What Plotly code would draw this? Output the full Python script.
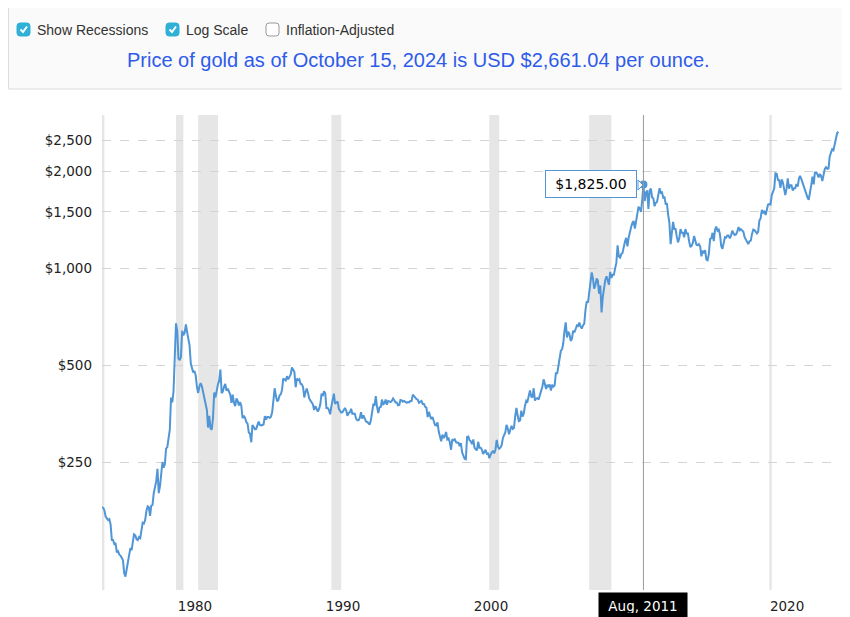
import pandas as pd
import plotly.graph_objects as go

# Buwanang presyo ng ginto (USD kada onsa), Ene 1975 - Okt 2024
gold_1975_1979 = [
    181, 180, 177, 169, 167, 165, 166, 160, 143, 143, 139, 140,
    131, 132, 129, 128, 126, 124, 113, 110, 116, 123, 130, 135,
    133, 142, 149, 148, 144, 143, 146, 145, 154, 162, 161, 165,
    176, 182, 181, 170, 183, 184, 200, 208, 218, 238, 200, 210,
    233, 250, 240, 246, 275, 278, 296, 315, 397, 383, 415, 512,
]
gold_1980s = [
    675, 640, 525, 518, 530, 640, 620, 630, 670, 635, 610, 575,
    505, 490, 475, 480, 465, 428, 410, 430, 440, 430, 410, 400,
    384, 363, 320, 348, 318, 315, 342, 411, 397, 423, 436, 448,
    485, 409, 414, 429, 437, 416, 423, 414, 405, 382, 405, 382,
    373, 394, 388, 375, 384, 373, 342, 348, 343, 333, 329, 309,
    306, 288, 326, 321, 316, 317, 327, 334, 326, 325, 326, 327,
    347, 339, 345, 345, 343, 346, 357, 385, 424, 401, 386, 390,
    403, 406, 419, 455, 452, 448, 462, 452, 460, 468, 492, 486,
    476, 427, 454, 450, 452, 438, 436, 428, 397, 413, 423, 410,
    394, 388, 383, 378, 363, 373, 366, 359, 366, 378, 408, 401,
]
gold_1990s = [
    415, 408, 368, 368, 363, 352, 372, 388, 408, 379, 384, 386,
    366, 362, 356, 357, 361, 368, 362, 348, 355, 357, 366, 353,
    354, 353, 341, 337, 337, 343, 357, 341, 349, 339, 334, 333,
    331, 327, 337, 355, 377, 376, 401, 371, 355, 370, 371, 391,
    378, 381, 391, 377, 387, 386, 384, 387, 394, 389, 383, 383,
    375, 376, 390, 389, 385, 387, 383, 382, 384, 383, 387, 387,
    405, 400, 396, 392, 391, 382, 385, 387, 379, 379, 371, 369,
    345, 358, 348, 340, 345, 336, 326, 325, 332, 311, 296, 290,
    304, 297, 301, 310, 294, 296, 288, 273, 294, 292, 294, 288,
    287, 287, 280, 286, 268, 262, 256, 255, 299, 300, 292, 290,
]
gold_2000s = [
    284, 294, 277, 274, 272, 289, 277, 277, 273, 265, 270, 273,
    264, 267, 257, 263, 268, 270, 266, 273, 293, 279, 275, 277,
    282, 297, 302, 309, 326, 318, 305, 313, 324, 317, 319, 347,
    368, 348, 335, 337, 361, 346, 354, 375, 388, 386, 398, 417,
    400, 397, 424, 388, 394, 395, 391, 408, 416, 428, 452, 438,
    422, 435, 428, 436, 417, 435, 429, 433, 474, 470, 495, 513,
    555, 560, 585, 640, 680, 610, 635, 625, 595, 605, 640, 632,
    650, 665, 662, 679, 659, 650, 665, 673, 743, 789, 783, 834,
    923, 972, 934, 865, 885, 930, 918, 834, 885, 730, 815, 870,
    920, 945, 920, 890, 975, 935, 955, 955, 1000, 1040, 1180, 1090,
]
gold_2010s = [
    1080, 1110, 1115, 1180, 1210, 1245, 1170, 1245, 1305, 1345, 1385, 1405,
    1330, 1410, 1440, 1555, 1535, 1500, 1630, 1825, 1620, 1720, 1745, 1530,
    1745, 1770, 1665, 1650, 1560, 1600, 1610, 1690, 1775, 1720, 1725, 1660,
    1665, 1580, 1595, 1470, 1390, 1190, 1315, 1395, 1325, 1325, 1255, 1205,
    1240, 1325, 1290, 1290, 1250, 1325, 1285, 1285, 1215, 1165, 1175, 1200,
    1260, 1215, 1185, 1180, 1190, 1170, 1090, 1135, 1115, 1140, 1065, 1060,
    1110, 1235, 1240, 1290, 1215, 1320, 1350, 1310, 1320, 1275, 1175, 1150,
    1210, 1250, 1245, 1265, 1265, 1240, 1265, 1310, 1285, 1270, 1275, 1300,
    1345, 1315, 1325, 1315, 1300, 1250, 1225, 1200, 1190, 1215, 1220, 1280,
    1320, 1315, 1295, 1285, 1300, 1410, 1430, 1520, 1485, 1510, 1465, 1520,
]
gold_2020s = [
    1580, 1585, 1580, 1690, 1730, 1770, 1975, 1970, 1885, 1880, 1780, 1890,
    1850, 1730, 1690, 1770, 1905, 1770, 1815, 1815, 1745, 1775, 1775, 1830,
    1795, 1905, 1940, 1895, 1840, 1810, 1765, 1710, 1660, 1635, 1760, 1815,
    1930, 1825, 1985, 1990, 1965, 1920, 1965, 1940, 1870, 1985, 2040, 2065,
    2040, 2045, 2230, 2290, 2345, 2330, 2445, 2500, 2635, 2661,
]

presyo = gold_1975_1979 + gold_1980s + gold_1990s + gold_2000s + gold_2010s + gold_2020s
buwan = pd.date_range("1975-01-01", periods=len(presyo), freq="MS")

# Mga resesyon (NBER)
resesyon_simula = ["1975-01-01", "1980-01-01", "1981-07-01", "1990-07-01",
                   "2001-03-01", "2007-12-01", "2020-02-01"]
resesyon_wakas = ["1975-03-01", "1980-07-01", "1982-11-01", "1991-03-01",
                  "2001-11-01", "2009-06-01", "2020-04-01"]

ytick_vals = [250, 500, 1000, 1500, 2000, 2500]
ytick_text = ["$250", "$500", "$1,000", "$1,500", "$2,000", "$2,500"]
xtick_vals = ["1980-01-01", "1990-01-01", "2000-01-01", "2020-01-01"]
xtick_text = ["1980", "1990", "2000", "2020"]

hover_buwan = "2011-08-01"
hover_idx = list(buwan).index(pd.Timestamp(hover_buwan))

# sukat ng pahina at plot area (pixels ng pahina; may 8px na margin ang body)
OFF = 8
PAGE_W, PAGE_H = 850, 617
X0, X1, Y0, Y1 = 102, 840, 115, 590
W, H = PAGE_W - OFF, PAGE_H - OFF


def px(x):
    return (x - X0) / (X1 - X0)


def py(y):
    return (Y1 - y) / (Y1 - Y0)


def rounded(x0, y0, x1, y1, r):
    return (f"M {px(x0 + r)} {py(y0)} L {px(x1 - r)} {py(y0)} Q {px(x1)} {py(y0)} {px(x1)} {py(y0 + r)} "
            f"L {px(x1)} {py(y1 - r)} Q {px(x1)} {py(y1)} {px(x1 - r)} {py(y1)} "
            f"L {px(x0 + r)} {py(y1)} Q {px(x0)} {py(y1)} {px(x0)} {py(y1 - r)} "
            f"L {px(x0)} {py(y0 + r)} Q {px(x0)} {py(y0)} {px(x0 + r)} {py(y0)} Z")


LINE = "#5096d6"
fig = go.Figure()
fig.add_trace(go.Scatter(x=buwan, y=presyo, mode="lines",
                         line=dict(color=LINE, width=2), hoverinfo="skip"))
fig.add_trace(go.Scatter(x=[buwan[hover_idx]], y=[presyo[hover_idx]], mode="markers",
                         marker=dict(color=LINE, size=8), hoverinfo="skip"))

shapes = []
for s, e in zip(resesyon_simula, resesyon_wakas):
    shapes.append(dict(type="rect", xref="x", yref="paper", x0=s, x1=e, y0=0, y1=1,
                       fillcolor="#e6e6e6", line=dict(width=0), layer="below"))
shapes.append(dict(type="line", xref="x", yref="paper", x0=hover_buwan, x1=hover_buwan,
                   y0=0, y1=1, line=dict(color="#999999", width=1)))

# header panel
shapes.append(dict(type="rect", xref="paper", yref="paper", x0=px(8.5), x1=px(847), y0=py(5), y1=py(89),
                   fillcolor="#fafafa", line=dict(color="#dcdcdc", width=1)))
checkbox_x = [17, 166, 266]
checked = [True, True, False]
labels = ["Show Recessions", "Log Scale", "Inflation-Adjusted"]
annotations = []
for cx, ch, lab in zip(checkbox_x, checked, labels):
    if ch:
        shapes.append(dict(type="path", xref="paper", yref="paper", path=rounded(cx, 23, cx + 13, 36, 3),
                           fillcolor="#2fb0d6", line=dict(color="#2fb0d6", width=1)))
        shapes.append(dict(type="path", xref="paper", yref="paper",
                           path=f"M {px(cx + 3.5)} {py(29.5)} L {px(cx + 6)} {py(32)} L {px(cx + 10)} {py(26.5)}",
                           line=dict(color="white", width=2)))
    else:
        shapes.append(dict(type="path", xref="paper", yref="paper", path=rounded(cx, 23, cx + 13, 36, 3),
                           fillcolor="white", line=dict(color="#9a9a9a", width=1)))
    annotations.append(dict(text=lab, xref="paper", yref="paper", x=px(cx + 18), y=py(29.5),
                            xanchor="left", yanchor="middle", showarrow=False,
                            font=dict(family="Liberation Sans, Arial", size=14, color="#333333")))

annotations.append(dict(text="Price of gold as of October 15, 2024 is USD $2,661.04 per ounce.",
                        xref="paper", yref="paper", x=px(418.5), y=py(60), xanchor="center",
                        yanchor="middle", showarrow=False,
                        font=dict(family="Liberation Sans, Arial", size=20, color="#2f5bea")))

# tooltip
annotations.append(dict(text="$1,825.00", x=hover_buwan, y=3.2613, xref="x", yref="y",
                        xanchor="right", yanchor="middle", xshift=-6, showarrow=False,
                        bgcolor="white", bordercolor=LINE, borderwidth=1, borderpad=4,
                        width=82, height=18,
                        font=dict(family="DejaVu Sans", size=14, color="black")))
shapes.append(dict(type="path", xref="paper", yref="paper",
                   path=f"M {px(638)} {py(180)} L {px(643)} {py(185)} L {px(638)} {py(190)} Z",
                   fillcolor="white", line=dict(color=LINE, width=1)))
annotations.append(dict(text="Aug, 2011", x=hover_buwan, y=0, xref="x", yref="paper",
                        xanchor="center", yanchor="top", yshift=-2, showarrow=False,
                        bgcolor="black", borderpad=5, width=78, height=15,
                        font=dict(family="DejaVu Sans", size=13.5, color="white")))

fig.update_layout(
    width=W, height=H,
    margin=dict(l=X0 - OFF, r=PAGE_W - X1, t=Y0 - OFF, b=PAGE_H - Y1, autoexpand=False),
    paper_bgcolor="white", plot_bgcolor="white",
    showlegend=False, hovermode=False,
    shapes=shapes, annotations=annotations,
    font=dict(family="DejaVu Sans", size=13.5, color="#222222"),
)
fig.update_xaxes(type="date", range=["1975-01-01", "2024-11-10"], showgrid=False,
                 tickvals=xtick_vals, ticktext=xtick_text, ticks="", showline=False,
                 zeroline=False, ticklabelshift=19, ticklabelstandoff=6, automargin=False)
fig.update_yaxes(type="log", range=[2, 3.477], tickvals=ytick_vals, ticktext=ytick_text,
                 showgrid=True, gridcolor="#d4d4d4", griddash="dash", gridwidth=1,
                 ticks="", showline=False, zeroline=False, ticklabelstandoff=9, automargin=False)

fig.write_html("out.html")
